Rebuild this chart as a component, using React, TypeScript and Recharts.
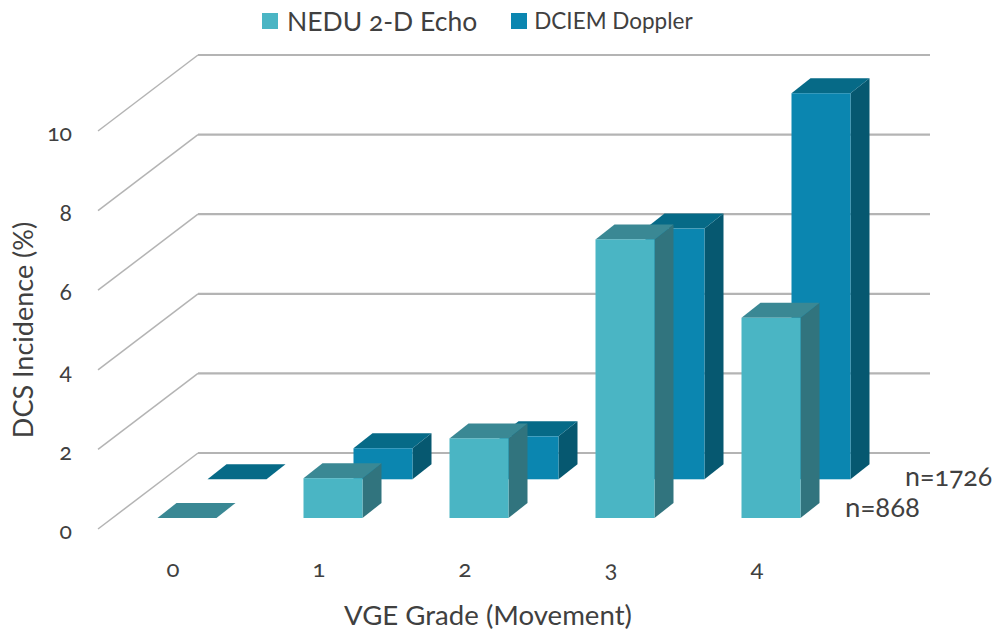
import { BarChart, Bar, XAxis, YAxis, CartesianGrid, Legend, Label } from 'recharts'

const grades = ['0', '1', '2', '3', '4']
const neduValues = [0, 1.0, 2.0, 7.0, 5.03]
const dciemValues = [0, 0.78, 1.08, 6.3, 9.7]
const yTicks = [0, 2, 4, 6, 8, 10]

const data = grades.map((grade, i) => ({ grade, nedu: neduValues[i], dciem: dciemValues[i] }))

const FONT = 'Lato, "Open Sans", sans-serif'
const TEXT = '#404040'
const GRID = '#b4b4b4'

const makeBox = (front: string, top: string, side: string, shiftX: number, shiftY: number) => (props: any) => {
  const x = props.x + shiftX
  const y = props.y + shiftY
  const w = props.width
  const h = props.height
  const dx = 19
  const dy = -15
  return (
    <g>
      <polygon points={`${x + w},${y} ${x + w + dx},${y + dy} ${x + w + dx},${y + h + dy} ${x + w},${y + h}`} fill={side} />
      <polygon points={`${x},${y} ${x + dx},${y + dy} ${x + w + dx},${y + dy} ${x + w},${y}`} fill={top} />
      {h > 0 && <rect x={x} y={y} width={w} height={h} fill={front} />}
    </g>
  )
}

const NeduBox = makeBox('#4ab5c4', '#3a8894', '#31747e', 13.5, -11)
const DciemBox = makeBox('#0b86b0', '#066a87', '#065870', 63.5, -49.7)

// floor/wall line: diagonal up to the back wall, then across it
const WallLine = (props: any) => {
  const x = props.x1 - 2
  const y = props.y1
  return (
    <g key={y} fill="none">
      <line x1={x} y1={y} x2={x + 100} y2={y - 76} stroke={GRID} strokeWidth={1.5} />
      <line x1={x + 100} y1={y - 76} x2={930} y2={y - 76} stroke={GRID} strokeWidth={2.2} />
    </g>
  )
}

const legendSizes: Record<string, number> = { 'NEDU 2-D Echo': 26.5, 'DCIEM Doppler': 22.5 }

const ChartLegend = ({ payload }: any) => (
  <div style={{ display: 'flex', alignItems: 'center', color: TEXT, fontFamily: FONT }}>
    {[...(payload ?? [])].reverse().map((item: any, i: number) => (
      <div key={item.value} style={{ display: 'flex', alignItems: 'center', marginRight: i === 0 ? 34 : 0 }}>
        <span style={{ width: 16, height: 16, background: item.color, marginRight: i === 0 ? 9 : 7, display: 'inline-block' }} />
        <span style={{ fontSize: legendSizes[item.value], lineHeight: '30px' }}>{item.value}</span>
      </div>
    ))}
  </div>
)

export default function App() {
  return (
    <div style={{ position: 'absolute', left: 0, top: 0, fontFamily: FONT, fontFeatureSettings: '"onum"' }}>
      <BarChart
        width={996}
        height={630}
        data={data}
        barSize={59}
        barGap={-59}
        margin={{ top: 131, right: 166, bottom: 0, left: 40 }}
      >
        <CartesianGrid vertical={false} horizontal={WallLine} />
        <XAxis
          dataKey="grade"
          height={71}
          axisLine={false}
          tickLine={false}
          tickMargin={25}
          tick={{ fontSize: 24, fill: TEXT }}
        >
          <Label value="VGE Grade (Movement)" position="insideBottom" dy={30} dx={23} fontSize={27.6} fill={TEXT} />
        </XAxis>
        <YAxis
          type="number"
          domain={[0, 10]}
          ticks={yTicks}
          width={60}
          axisLine={false}
          tickLine={false}
          tickMargin={22}
          tick={{ fontSize: 23, fill: TEXT, dy: 2 }}
        >
          <Label value="DCS Incidence (%)" angle={-90} position="insideLeft" textAnchor="middle" dx={-22} fontSize={27} fill={TEXT} />
        </YAxis>
        <Bar dataKey="dciem" name="DCIEM Doppler" fill="#0b86b0" shape={DciemBox} isAnimationActive={false} />
        <Bar dataKey="nedu" name="NEDU 2-D Echo" fill="#4ab5c4" shape={NeduBox} isAnimationActive={false} />
        <Legend content={ChartLegend} wrapperStyle={{ left: 262, top: 6, width: 560 }} />
        <text x={905} y={486} fontSize={26.8} fill={TEXT}>n=1726</text>
        <text x={845} y={517} fontSize={27.6} fill={TEXT}>n=868</text>
      </BarChart>
    </div>
  )
}
